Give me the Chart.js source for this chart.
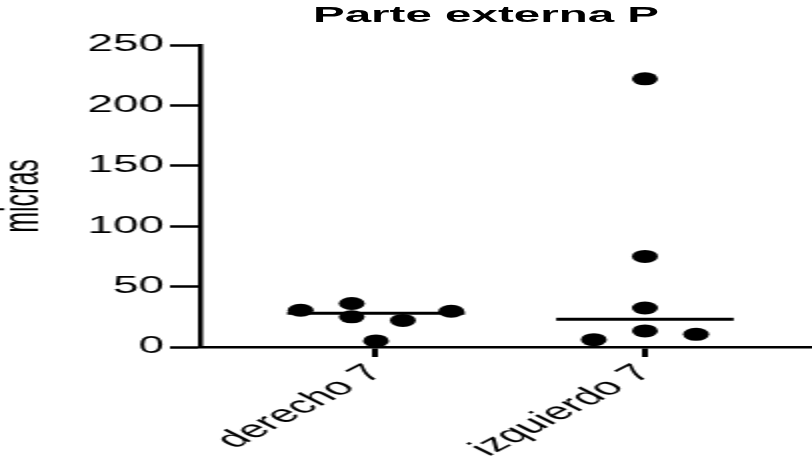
<!DOCTYPE html>
<html>
<head>
<meta charset="utf-8">
<script src="https://cdn.jsdelivr.net/npm/chart.js@4/dist/chart.umd.min.js"></script>
<style>
  html, body { margin: 0; padding: 0; background: #fff; }
  #wrap { position: relative; width: 812px; height: 457px; overflow: hidden; }
  #plot { position: absolute; left: 0; top: 0; width: 812px; height: 457px; }
  #title {
    position: absolute; left: 313px; top: 4px; margin: 0;
    font: bold 22px/22px "Liberation Sans", Arial, sans-serif; color: #000;
    white-space: nowrap; transform: scaleX(2.16); transform-origin: 0 0;
  }
</style>
</head>
<body>
<div id="wrap">
  <canvas id="plot" width="406" height="457" style="width:812px;height:457px"></canvas>
  <div id="title">Parte externa P</div>
</div>
<script>
const categories = ['derecho 7', 'izquierdo 7']
const categoryPositions = [1, 2]

// values (micras), with their horizontal scatter offsets
const derechoValues = [30.4, 36, 25, 22, 29.6, 5]
const derechoOffsets = [-0.28, -0.09, -0.09, 0.1, 0.28, 0]
const izquierdoValues = [222, 75, 32.3, 13.3, 6.1, 10.5]
const izquierdoOffsets = [0, 0, 0, 0, -0.19, 0.19]
const medianValues = [28, 23]
const medianHalfWidth = 0.33

const yTicks = [0, 50, 100, 150, 200, 250]

const fontFamily = '"Liberation Sans", Arial, Helvetica, sans-serif'
const ink = '#000'

function dots(pos, values, offsets) {
  return values.map((v, i) => ({ x: pos + offsets[i], y: v }))
}

function medianLine(pos, value) {
  return [
    { x: pos - medianHalfWidth, y: value },
    { x: pos + medianHalfWidth, y: value },
  ]
}

const dotStyle = {
  backgroundColor: ink,
  borderWidth: 0,
  pointRadius: 6.5,
  pointHoverRadius: 6.5,
}

const lineStyle = {
  type: 'line',
  showLine: true,
  borderColor: ink,
  borderWidth: 3,
  pointRadius: 0,
  fill: false,
}

// the axes' label overhang should not shrink the plot area
function noPadding(scale) {
  scale.paddingLeft = 0
  scale.paddingRight = 0
  scale.paddingTop = 0
  scale.paddingBottom = 0
}

new Chart(document.getElementById('plot'), {
  type: 'scatter',
  data: {
    datasets: [
      { label: categories[0], data: dots(categoryPositions[0], derechoValues, derechoOffsets), ...dotStyle },
      { label: categories[1], data: dots(categoryPositions[1], izquierdoValues, izquierdoOffsets), ...dotStyle },
      { label: 'mediana ' + categories[0], data: medianLine(categoryPositions[0], medianValues[0]), ...lineStyle },
      { label: 'mediana ' + categories[1], data: medianLine(categoryPositions[1], medianValues[1]), ...lineStyle },
    ],
  },
  options: {
    responsive: false,
    devicePixelRatio: 1,
    animation: false,
    layout: { autoPadding: false, padding: { top: 45, right: 0, bottom: 0, left: 0 } },
    plugins: {
      legend: { display: false },
      tooltip: { enabled: false },
    },
    scales: {
      x: {
        type: 'linear',
        min: 0.3457,
        max: 2.621,
        afterBuildTicks: (scale) => {
          scale.ticks = categoryPositions.map((value) => ({ value }))
        },
        afterFit: (scale) => {
          scale.height = 110
          noPadding(scale)
        },
        ticks: {
          autoSkip: false,
          minRotation: 45,
          maxRotation: 45,
          padding: 2,
          color: ink,
          font: { family: fontFamily, size: 24 },
          callback: (value, index) => categories[index],
        },
        grid: { drawOnChartArea: false, tickLength: 10, tickWidth: 3, tickColor: ink },
        border: { color: ink, width: 2.5 },
      },
      y: {
        min: 0,
        max: 250,
        afterBuildTicks: (scale) => {
          scale.ticks = yTicks.map((value) => ({ value }))
        },
        afterFit: (scale) => {
          scale.width = 100
          noPadding(scale)
        },
        ticks: {
          padding: 3,
          color: ink,
          font: { family: fontFamily, size: 23 },
        },
        grid: { drawOnChartArea: false, tickLength: 15, tickWidth: 2.5, tickColor: ink },
        border: { color: ink, width: 2.5 },
        title: {
          display: true,
          text: 'micras',
          color: ink,
          padding: 0,
          font: { family: fontFamily, size: 25, lineHeight: 1 },
        },
      },
    },
  },
})
</script>
</body>
</html>
